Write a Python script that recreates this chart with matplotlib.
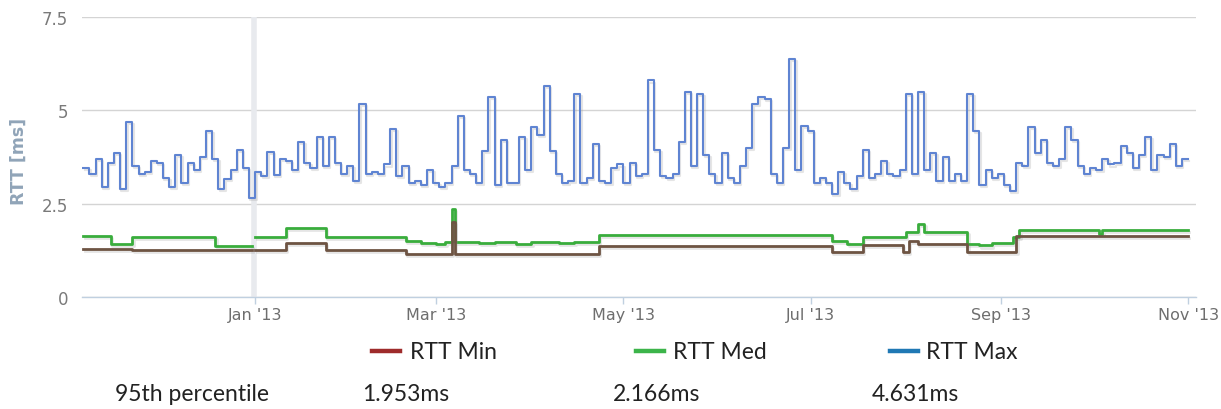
import numpy as np
import matplotlib
matplotlib.use("Agg")
import matplotlib.pyplot as plt
import matplotlib.dates as mdates
import matplotlib.patheffects as pe

# ---------------- data ----------------
max_start = "2012-11-06"   # RTT Max: one value per 2-day step
rtt_max = [
    3.45, 3.3, 3.7, 2.95, 3.6, 3.85, 2.9, 4.7, 3.5, 3.3,
    3.35, 3.65, 3.6, 3.2, 2.95, 3.8, 3.05, 3.6, 3.4, 3.75,
    4.45, 3.7, 2.9, 3.15, 3.4, 3.95, 3.45, 2.65, 3.35, 3.25,
    3.88, 3.27, 3.7, 3.65, 3.4, 4.15, 3.6, 3.45, 4.28, 3.5,
    4.28, 3.6, 3.3, 3.5, 3.1, 5.17, 3.3, 3.35, 3.3, 3.55,
    4.5, 3.25, 3.5, 3.05, 3.1, 3.0, 3.4, 3.05, 2.95, 3.05,
    3.5, 4.85, 3.4, 3.3, 3.05, 3.9, 5.35, 3.0, 4.2, 3.05,
    3.05, 4.28, 3.4, 4.55, 4.35, 5.66, 3.9, 3.3, 3.05, 3.1,
    5.44, 3.05, 3.2, 4.1, 3.1, 3.05, 3.45, 3.55, 3.05, 3.6,
    3.25, 3.3, 5.8, 3.95, 3.25, 3.2, 3.3, 4.15, 5.48, 3.5,
    5.45, 3.8, 3.3, 3.05, 3.85, 3.2, 3.05, 3.5, 4.0, 5.17,
    5.35, 5.3, 3.3, 3.05, 4.0, 6.38, 3.4, 4.58, 4.45, 3.05,
    3.2, 3.05, 2.76, 3.35, 3.05, 2.9, 3.25, 3.95, 3.2, 3.3,
    3.65, 3.3, 3.25, 3.4, 5.44, 3.3, 5.5, 3.4, 3.85, 3.1,
    3.75, 3.1, 3.3, 3.1, 5.44, 4.45, 3.0, 3.4, 3.2, 3.3,
    3.0, 2.84, 3.6, 3.5, 4.55, 3.85, 4.2, 3.6, 3.5, 3.7,
    4.55, 4.2, 3.5, 3.3, 3.45, 3.4, 3.7, 3.55, 3.6, 4.05,
    3.85, 3.45, 3.8, 4.28, 3.4, 3.8, 3.75, 4.1, 3.5, 3.7,
]

med_dates = ["2012-11-06", "2012-11-15", "2012-11-22", "2012-12-19", "2012-12-31",
             "2013-01-01", "2013-01-11", "2013-01-24", "2013-02-19", "2013-02-24",
             "2013-03-01", "2013-03-04", "2013-03-06", "2013-03-07", "2013-03-15",
             "2013-03-20", "2013-03-27", "2013-04-01", "2013-04-10", "2013-04-15",
             "2013-04-23", "2013-07-08", "2013-07-13", "2013-07-18", "2013-08-01",
             "2013-08-05", "2013-08-07", "2013-08-21", "2013-08-25", "2013-08-29",
             "2013-09-05", "2013-09-07", "2013-10-03", "2013-10-04", "2013-11-01"]
rtt_med = [1.63, 1.42, 1.6, 1.37, np.nan,
           1.6, 1.84, 1.62, 1.5, 1.45,
           1.42, 1.47, 2.36, 1.47, 1.44,
           1.48, 1.42, 1.47, 1.45, 1.47,
           1.65, 1.5, 1.42, 1.6, 1.75,
           1.95, 1.74, 1.42, 1.38, 1.44,
           1.6, 1.8, 1.7, 1.8, 1.8]

min_dates = ["2012-11-06", "2012-11-22", "2012-12-31", "2013-01-01", "2013-01-11",
             "2013-01-24", "2013-02-19", "2013-03-06", "2013-03-07", "2013-04-23",
             "2013-07-08", "2013-07-18", "2013-07-31", "2013-08-02", "2013-08-05",
             "2013-08-21", "2013-09-06", "2013-11-01"]
rtt_min = [1.29, 1.25, np.nan, 1.25, 1.45,
           1.25, 1.16, 2.0, 1.16, 1.37,
           1.2, 1.4, 1.2, 1.5, 1.43,
           1.2, 1.63, 1.63]

y_ticks = [0, 2.5, 5, 7.5]
y_tick_labels = ["0", "2.5", "5", "7.5"]
x_tick_dates = ["2013-01-01", "2013-03-01", "2013-05-01", "2013-07-01", "2013-09-01", "2013-11-01"]
x_tick_labels = ["Jan '13", "Mar '13", "May '13", "Jul '13", "Sep '13", "Nov '13"]
series_names = ["RTT Min", "RTT Med", "RTT Max"]
percentiles = ["1.953ms", "2.166ms", "4.631ms"]

# ---------------- figure ----------------
W, H = 1221, 410
fig = plt.figure(figsize=(W / 100, H / 100), dpi=100)
ax = fig.add_axes([82 / W, 1 - 298 / H, (1196 - 82) / W, (298 - 18) / H])

def fx(px):
    return px / W

def fy(py):
    return 1 - py / H

shadow = [pe.SimpleLineShadow(offset=(1, -1.5), shadow_color="#999999", alpha=0.25), pe.Normal()]

# Max series
start = np.datetime64(max_start)
max_x = start + np.arange(len(rtt_max) + 1) * np.timedelta64(2, "D")
max_y = list(rtt_max) + [rtt_max[-1]]
ax.step(mdates.date2num(max_x.astype("datetime64[D]").astype(object)), max_y, where="post",
        color="#5f84d2", lw=1.5, zorder=4, path_effects=shadow)

# Med series
ax.step(mdates.datestr2num(med_dates), rtt_med, where="post", color="#39ad3c", lw=2.0,
        zorder=3, path_effects=shadow)

# Min series
ax.step(mdates.datestr2num(min_dates), rtt_min, where="post", color="#6e5443", lw=2.0,
        zorder=3, path_effects=shadow)

# light vertical band at Jan 1
ax.axvline(mdates.datestr2num("2012-12-31 18:00"), color="#e8eaee", lw=4, zorder=1)

ax.set_ylim(0, 7.5)
ax.set_xlim(mdates.datestr2num("2012-11-05 14:00"), mdates.datestr2num("2013-11-03 14:00"))

ax.set_yticks(y_ticks)
ax.set_yticklabels(y_tick_labels)
ax.yaxis.grid(True, color="#d4d4d4", lw=1)
ax.set_axisbelow(True)
ax.tick_params(axis="y", length=0, pad=10, labelsize=12, labelcolor="#7a7a7a")

ax.set_xticks(mdates.datestr2num(x_tick_dates))
ax.set_xticklabels(x_tick_labels)
ax.tick_params(axis="x", length=5, width=1, color="#c0d0e0", pad=2, labelsize=11.5, labelcolor="#6e6e6e")

for s in ["top", "right", "left"]:
    ax.spines[s].set_visible(False)
ax.spines["bottom"].set_color("#c0d0e0")
ax.spines["bottom"].set_linewidth(1)

fig.text(fx(19), fy(161), "RTT [ms]", rotation=90, ha="center", va="center",
         fontsize=12.5, fontweight="bold", color="#90a4b8")

# legend
leg_font = "Lato"
leg_colors = ["#9e2b2b", "#3cb44a", "#1f78b4"]
leg_line_x = [372, 636, 890]
leg_text_x = [410, 673, 926]
for name, c, lx, tx in zip(series_names, leg_colors, leg_line_x, leg_text_x):
    fig.add_artist(plt.Line2D([fx(lx), fx(lx + 28)], [fy(352), fy(352)], color=c, lw=3.2,
                              transform=fig.transFigure))
    fig.text(fx(tx), fy(353), name, ha="left", va="center", fontsize=16.5,
             color="#222222", family=leg_font)

# percentile row
fig.text(fx(115), fy(395), "95th percentile", ha="left", va="center", fontsize=16.5,
         color="#222222", family=leg_font)
for txt, px in zip(percentiles, [362, 613, 872]):
    fig.text(fx(px), fy(395), txt, ha="left", va="center", fontsize=16.5,
             color="#222222", family=leg_font)

fig.savefig("out.png", dpi=100, facecolor="white")
